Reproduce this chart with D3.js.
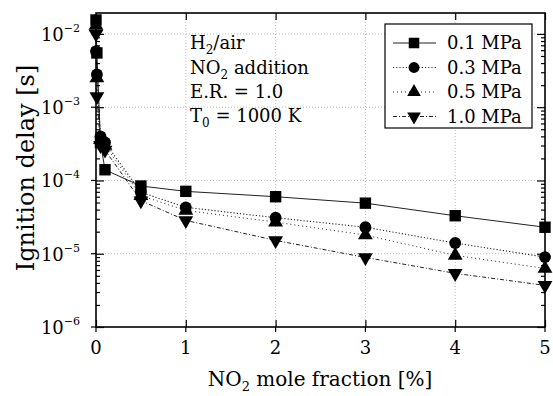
<!DOCTYPE html>
<html>
<head>
<meta charset="utf-8">
<script src="https://cdn.jsdelivr.net/npm/d3@7"></script>
<style>
  html, body { margin: 0; padding: 0; background: #fff; }
</style>
</head>
<body>
<svg id="chart" width="553" height="396" font-family="'DejaVu Serif', 'Liberation Serif', serif"></svg>
<script>
// NO2 mole fraction [%] at which each ignition delay was computed
const fractions = [0, 0.01, 0.05, 0.1, 0.5, 1, 2, 3, 4, 5];

// Ignition delay [s] for each pressure
const delay01MPa = [1.55e-2, 5.5e-3, 3.3e-4, 1.4e-4, 8.4e-5, 7.1e-5, 6.0e-5, 4.9e-5, 3.3e-5, 2.3e-5];
const delay03MPa = [5.8e-3, 2.8e-3, 4.0e-4, 3.3e-4, 6.9e-5, 4.3e-5, 3.1e-5, 2.3e-5, 1.4e-5, 9.0e-6];
const delay05MPa = [1.3e-2, 2.5e-3, 3.6e-4, 3.0e-4, 6.2e-5, 3.9e-5, 2.7e-5, 1.8e-5, 9.5e-6, 6.3e-6];
const delay10MPa = [1.0e-2, 1.4e-3, 3.0e-4, 2.6e-4, 5.3e-5, 2.85e-5, 1.52e-5, 8.9e-6, 5.4e-6, 3.7e-6];

const seriesNames = ["0.1 MPa", "0.3 MPa", "0.5 MPa", "1.0 MPa"];
const xTicks = [0, 1, 2, 3, 4, 5];
const yExponents = [-2, -3, -4, -5, -6];

const series = [
  { name: seriesNames[0], values: delay01MPa, symbol: d3.symbolSquare, size: 130, rot: 0, dash: null, width: 1 },
  { name: seriesNames[1], values: delay03MPa, symbol: d3.symbolCircle, size: 110, rot: 0, dash: "1.2,2", width: 1.1 },
  { name: seriesNames[2], values: delay05MPa, symbol: d3.symbolTriangle, size: 95, rot: 0, dash: "1,3", width: 1 },
  { name: seriesNames[3], values: delay10MPa, symbol: d3.symbolTriangle, size: 95, rot: 180, dash: "4,2,1,2", width: 1 }
];

const svg = d3.select("#chart");
const m = { left: 96, right: 545, top: 13, bottom: 327 };

const x = d3.scaleLinear().domain([0, 5]).range([m.left, m.right]);
const y = d3.scaleLog().domain([1e-6, 0.0193]).range([m.bottom, m.top]);

// grid
const grid = svg.append("g").attr("stroke", "#aaa").attr("stroke-width", 0.8).attr("stroke-dasharray", "1,2");
[1, 2, 3, 4].forEach(v => grid.append("line").attr("x1", x(v)).attr("x2", x(v)).attr("y1", m.top).attr("y2", m.bottom));
[-2, -3, -4, -5].forEach(e => grid.append("line").attr("x1", m.left).attr("x2", m.right).attr("y1", y(Math.pow(10, e))).attr("y2", y(Math.pow(10, e))));

// log minor ticks
const minorY = [];
for (let e = -6; e <= -2; e++) for (let k = 2; k <= 9; k++) {
  const v = k * Math.pow(10, e);
  if (v <= 0.0193) minorY.push(v);
}
const majorY = yExponents.map(e => Math.pow(10, e));

function drawAxes() {
  const gb = svg.append("g").attr("transform", `translate(0,${m.bottom})`)
    .call(d3.axisBottom(x).tickValues(xTicks).tickSizeInner(-7).tickSizeOuter(0).tickFormat(""));
  const gt = svg.append("g").attr("transform", `translate(0,${m.top})`)
    .call(d3.axisTop(x).tickValues(xTicks).tickSizeInner(-7).tickSizeOuter(0).tickFormat(""));
  const gl = svg.append("g").attr("transform", `translate(${m.left},0)`)
    .call(d3.axisLeft(y).tickValues(majorY).tickSizeInner(-8).tickSizeOuter(0).tickFormat(""));
  const glm = svg.append("g").attr("transform", `translate(${m.left},0)`)
    .call(d3.axisLeft(y).tickValues(minorY).tickSizeInner(-4).tickSizeOuter(0).tickFormat(""));
  const gr = svg.append("g").attr("transform", `translate(${m.right},0)`)
    .call(d3.axisRight(y).tickValues(majorY).tickSizeInner(-8).tickSizeOuter(0).tickFormat(""));
  const grm = svg.append("g").attr("transform", `translate(${m.right},0)`)
    .call(d3.axisRight(y).tickValues(minorY).tickSizeInner(-4).tickSizeOuter(0).tickFormat(""));
  [gb, gt, gl, glm, gr, grm].forEach(g => {
    g.select(".domain").remove();
    g.selectAll(".tick line").attr("stroke", "#000").attr("stroke-width", 1.2);
  });
  // short outward stubs at major ticks
  svg.append("g").selectAll("line").data(xTicks).join("line")
    .attr("x1", d => x(d)).attr("x2", d => x(d)).attr("y1", m.bottom).attr("y2", m.bottom + 5)
    .attr("stroke", "#000").attr("stroke-width", 1.2);
  svg.append("g").selectAll("line").data(majorY).join("line")
    .attr("x1", m.left - 5).attr("x2", m.left).attr("y1", d => y(d)).attr("y2", d => y(d))
    .attr("stroke", "#000").attr("stroke-width", 1.2);
  // frame
  svg.append("rect").attr("x", m.left).attr("y", m.top)
    .attr("width", m.right - m.left).attr("height", m.bottom - m.top)
    .attr("fill", "none").attr("stroke", "#000").attr("stroke-width", 1.6);
}

// series lines and markers
const line = d3.line().x((d, i) => x(fractions[i])).y(d => y(d));
const plot = svg.append("g");
series.forEach(s => {
  plot.append("path").datum(s.values).attr("d", line)
    .attr("fill", "none").attr("stroke", "#222").attr("stroke-width", s.width)
    .attr("stroke-dasharray", s.dash);
});
series.forEach(s => {
  plot.append("g").selectAll("path").data(s.values).join("path")
    .attr("d", d3.symbol(s.symbol, s.size))
    .attr("transform", (d, i) => `translate(${x(fractions[i])},${y(d)}) rotate(${s.rot})`)
    .attr("fill", "#000");
});

drawAxes();

// tick labels
svg.append("g").selectAll("text").data(xTicks).join("text")
  .attr("x", d => x(d)).attr("y", 354).attr("text-anchor", "middle")
  .attr("font-size", 18).text(d => d);

const yl = svg.append("g").selectAll("text").data(yExponents).join("text")
  .attr("x", 80).attr("y", d => y(Math.pow(10, d)) + 7).attr("text-anchor", "end")
  .attr("font-size", 18);
yl.append("tspan").text("10");
yl.append("tspan").attr("dy", -9).attr("font-size", 11).text(d => "\u2212" + Math.abs(d));

// axis titles
const xt = svg.append("text").attr("x", 320).attr("y", 386).attr("text-anchor", "middle").attr("font-size", 20);
xt.append("tspan").text("NO");
xt.append("tspan").attr("dy", 5).attr("font-size", 13).text("2");
xt.append("tspan").attr("dy", -5).text(" mole fraction [%]");

svg.append("text").attr("transform", "translate(34,168) rotate(-90)")
  .attr("text-anchor", "middle").attr("font-size", 24).text("Ignition delay [s]");

// condition annotations
const notes = svg.append("g").attr("font-size", 18);
const n1 = notes.append("text").attr("x", 190).attr("y", 49);
n1.append("tspan").text("H");
n1.append("tspan").attr("dy", 5).attr("font-size", 12).text("2");
n1.append("tspan").attr("dy", -5).text("/air");
const n2 = notes.append("text").attr("x", 190).attr("y", 74);
n2.append("tspan").text("NO");
n2.append("tspan").attr("dy", 5).attr("font-size", 12).text("2");
n2.append("tspan").attr("dy", -5).text(" addition");
notes.append("text").attr("x", 190).attr("y", 98).text("E.R. = 1.0");
const n4 = notes.append("text").attr("x", 190).attr("y", 122);
n4.append("tspan").text("T");
n4.append("tspan").attr("dy", 5).attr("font-size", 12).text("0");
n4.append("tspan").attr("dy", -5).text(" = 1000 K");

// legend
const lg = svg.append("g");
lg.append("rect").attr("x", 385).attr("y", 24).attr("width", 147).attr("height", 104)
  .attr("fill", "#fff").attr("stroke", "#000").attr("stroke-width", 1.2);
series.forEach((s, i) => {
  const cy = 43 + i * 24.5;
  lg.append("line").attr("x1", 393).attr("x2", 436).attr("y1", cy).attr("y2", cy)
    .attr("stroke", "#222").attr("stroke-width", s.width).attr("stroke-dasharray", s.dash);
  lg.append("path").attr("d", d3.symbol(s.symbol, s.size * 0.85))
    .attr("transform", `translate(414,${cy}) rotate(${s.rot})`).attr("fill", "#000");
  lg.append("text").attr("x", 447).attr("y", cy + 6).attr("font-size", 18).text(s.name);
});
</script>
</body>
</html>
